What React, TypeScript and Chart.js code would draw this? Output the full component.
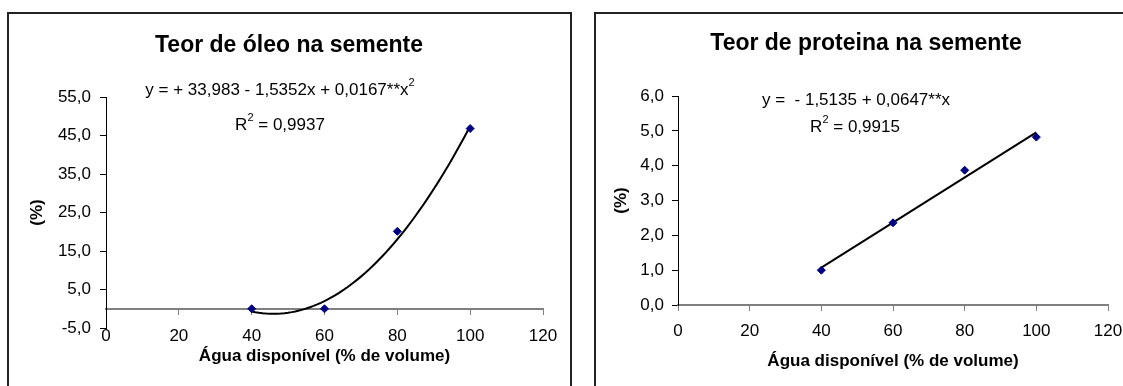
import React, { useEffect, useRef } from "react";
import { Chart, registerables } from "chart.js";

Chart.register(...registerables);

const FONT = "'Liberation Sans', Arial, Helvetica, sans-serif";

// Shared x axis: available water (% of volume)
const waterLevels = [40, 60, 80, 100];
const xTicks = [0, 20, 40, 60, 80, 100, 120];

// Seed oil content (%)
const oilValues = [0, 0, 20.1, 46.8];
const oilYTicks = [-5, 5, 15, 25, 35, 45, 55];
const oilCoef = [33.983, -1.5352, 0.0167]; // a + b·x + c·x²
const oilFitRange = [40, 100];

// Seed protein content (%)
const protValues = [1.0, 2.36, 3.87, 4.82];
const protYTicks = [0, 1, 2, 3, 4, 5, 6];
const protCoef = [-1.5135, 0.0647]; // a + b·x
const protFitRange = [40, 100];

const xTitle = "Água disponível (% de volume)";
const yTitle = "(%)";

type Run = { t: string; sup?: boolean };

type PanelSpec = {
  title: string;
  titleX: number;
  titleY: number;
  box: [number, number];
  lines: { runs: Run[]; x: number; y: number }[];
};

function polyFit(coef: number[], range: number[], step: number) {
  const pts: { x: number; y: number }[] = [];
  for (let x = range[0]; x <= range[1] + 1e-9; x += step) {
    let y = 0;
    coef.forEach((c, i) => (y += c * Math.pow(x, i)));
    pts.push({ x, y });
  }
  return pts;
}

function drawRuns(ctx: CanvasRenderingContext2D, runs: Run[], cx: number, cy: number, size: number) {
  const normal = `${size}px ${FONT}`;
  const small = `${Math.round(size * 0.62)}px ${FONT}`;
  let total = 0;
  const widths = runs.map((r) => {
    ctx.font = r.sup ? small : normal;
    const w = ctx.measureText(r.t).width;
    total += w;
    return w;
  });
  let x = cx - total / 2;
  ctx.textAlign = "left";
  ctx.textBaseline = "middle";
  ctx.fillStyle = "#000";
  runs.forEach((r, i) => {
    ctx.font = r.sup ? small : normal;
    ctx.fillText(r.t, x, r.sup ? cy - size * 0.4 : cy);
    x += widths[i];
  });
}

const panelPlugin = {
  id: "panel",
  afterDraw(chart: any, _args: any, opts: PanelSpec) {
    const ctx: CanvasRenderingContext2D = chart.ctx;
    ctx.save();
    ctx.strokeStyle = "#222";
    ctx.lineWidth = 2;
    ctx.beginPath();
    ctx.moveTo(opts.box[0], chart.height + 5);
    ctx.lineTo(opts.box[0], 13);
    ctx.lineTo(opts.box[1], 13);
    ctx.lineTo(opts.box[1], chart.height + 5);
    ctx.stroke();

    ctx.fillStyle = "#000";
    ctx.font = `bold 23px ${FONT}`;
    ctx.textAlign = "center";
    ctx.textBaseline = "middle";
    ctx.fillText(opts.title, opts.titleX, opts.titleY);

    opts.lines.forEach((l) => drawRuns(ctx, l.runs, l.x, l.y, 17));
    ctx.restore();
  },
};

function fmtY(v: any) {
  return Number(v).toFixed(1).replace(".", ",");
}

function makeConfig(p: {
  values: number[];
  fit: { x: number; y: number }[];
  yMin: number;
  yMax: number;
  yTicks: number[];
  padding: { left: number; right: number; top: number; bottom: number };
  yWidth: number;
  xHeight: number;
  xTickPad: number;
  yTickPad: number;
  yTitlePad: number;
  panel: PanelSpec;
}): any {
  return {
    type: "scatter",
    data: {
      datasets: [
        {
          data: waterLevels.map((x, i) => ({ x, y: p.values[i] })),
          pointStyle: "rectRot",
          pointRadius: 4,
          backgroundColor: "#000080",
          borderColor: "#000080",
          borderWidth: 1,
          showLine: false,
        },
        {
          data: p.fit,
          showLine: true,
          pointRadius: 0,
          borderColor: "#000",
          borderWidth: 2,
          tension: 0,
          fill: false,
        },
      ],
    },
    options: {
      responsive: false,
      animation: false,
      devicePixelRatio: 1,
      layout: { padding: p.padding },
      plugins: {
        legend: { display: false },
        tooltip: { enabled: false },
        title: { display: false },
        panel: p.panel,
      },
      scales: {
        x: {
          type: "linear",
          min: 0,
          max: 120,
          position: { y: 0 },
          afterBuildTicks: (s: any) => {
            s.ticks = xTicks.map((v) => ({ value: v }));
          },
          afterFit: (s: any) => {
            s.height = p.xHeight;
          },
          grid: { drawOnChartArea: false, drawTicks: true, tickLength: 5, color: "#808080", lineWidth: 1 },
          border: { display: true, color: "#808080", width: 2 },
          ticks: {
            color: "#000",
            font: { family: FONT, size: 17 },
            padding: p.xTickPad,
            maxRotation: 0,
            autoSkip: false,
            callback: (v: any) => String(v),
          },
          title: {
            display: true,
            text: xTitle,
            color: "#000",
            font: { family: FONT, size: 17, weight: "bold" },
            padding: 0,
          },
        },
        y: {
          type: "linear",
          min: p.yMin,
          max: p.yMax,
          position: "left",
          afterBuildTicks: (s: any) => {
            s.ticks = p.yTicks.map((v) => ({ value: v }));
          },
          afterFit: (s: any) => {
            s.width = p.yWidth;
          },
          grid: { drawOnChartArea: false, drawTicks: true, tickLength: 6, color: "#000", lineWidth: 1 },
          border: { display: true, color: "#000", width: 1 },
          ticks: {
            color: "#000",
            font: { family: FONT, size: 17 },
            padding: p.yTickPad,
            autoSkip: false,
            callback: fmtY,
          },
          title: {
            display: true,
            text: yTitle,
            color: "#000",
            font: { family: FONT, size: 17, weight: "bold" },
            padding: { top: p.yTitlePad, bottom: 0 },
          },
        },
      },
    },
    plugins: [panelPlugin],
  };
}

const oilConfig = () =>
  makeConfig({
    values: oilValues,
    fit: polyFit(oilCoef, oilFitRange, 1),
    yMin: -5,
    yMax: 55,
    yTicks: oilYTicks,
    padding: { left: 20, right: 40, top: 97, bottom: 58 },
    yWidth: 86,
    xHeight: 58,
    xTickPad: 12,
    yTickPad: 9,
    yTitlePad: 7,
    panel: {
      title: "Teor de óleo na semente",
      titleX: 289,
      titleY: 46,
      box: [8, 571],
      lines: [
        {
          runs: [{ t: "y = + 33,983 - 1,5352x + 0,0167**x" }, { t: "2", sup: true }],
          x: 280,
          y: 90,
        },
        {
          runs: [{ t: "R" }, { t: "2", sup: true }, { t: " = " + "0,9937" }],
          x: 280,
          y: 125,
        },
      ],
    },
  });

const protConfig = () =>
  makeConfig({
    values: protValues,
    fit: polyFit(protCoef, protFitRange, 60),
    yMin: 0,
    yMax: 6,
    yTicks: protYTicks,
    padding: { left: 20, right: 35, top: 96, bottom: 81 },
    yWidth: 75,
    xHeight: 67,
    xTickPad: 11,
    yTickPad: 8,
    yTitlePad: 8,
    panel: {
      title: "Teor de proteina na semente",
      titleX: 283,
      titleY: 44,
      box: [12, 600],
      lines: [
        {
          runs: [{ t: "y =  - 1,5135 + 0,0647**x" }],
          x: 273,
          y: 100,
        },
        {
          runs: [{ t: "R" }, { t: "2", sup: true }, { t: " = " + "0,9915" }],
          x: 272,
          y: 127,
        },
      ],
    },
  });

function ChartCanvas({ left, width, config }: { left: number; width: number; config: () => any }) {
  const ref = useRef<HTMLCanvasElement | null>(null);
  useEffect(() => {
    if (!ref.current) return;
    const chart = new Chart(ref.current, config());
    return () => chart.destroy();
  }, [config]);
  return (
    <canvas
      ref={ref}
      width={width}
      height={386}
      style={{ position: "absolute", left, top: 0, width, height: 386, display: "block" }}
    />
  );
}

export default function App() {
  return (
    <div
      style={{
        position: "absolute",
        left: 0,
        top: 0,
        width: 1123,
        height: 386,
        overflow: "hidden",
        background: "#fff",
      }}
    >
      <ChartCanvas left={0} width={583} config={oilConfig} />
      <ChartCanvas left={583} width={560} config={protConfig} />
    </div>
  );
}
